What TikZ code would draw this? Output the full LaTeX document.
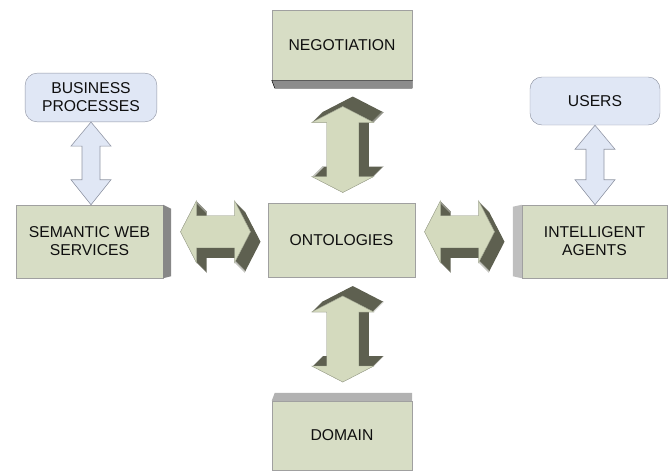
\documentclass[tikz,border=0pt]{standalone}
\usepackage{xcolor}
\usepackage{fontspec}
\setmainfont{Liberation Sans}
\usepackage{tikz}
\usetikzlibrary{calc}

\definecolor{boxfill}{RGB}{215,221,197}
\definecolor{boxline}{RGB}{160,160,160}
\definecolor{bluefill}{RGB}{224,231,245}
\definecolor{blueline}{RGB}{145,150,165}
\definecolor{frontfill}{RGB}{212,218,190}
\definecolor{frontline}{RGB}{165,170,150}
\definecolor{sidedark}{RGB}{94,96,80}
\definecolor{textcol}{RGB}{15,15,15}

\tikzstyle{greenbox} = [rectangle, minimum width=4.2cm, minimum height=2.1cm, text centered, align=center, draw=boxline, fill=boxfill, text=textcol]
\tikzstyle{bluebox} = [rectangle, rounded corners=0.36cm, minimum width=3.95cm, minimum height=1.46cm, text centered, align=center, draw=blueline, fill=bluefill, text=textcol]
\tikzstyle{bluearrow} = [draw=blueline, fill=bluefill, line width=0.5pt]
\tikzstyle{arrowside} = [fill=sidedark]
\tikzstyle{arrowfront} = [draw=frontline, fill=frontfill, line width=0.4pt]
\tikzstyle{greyside} = [fill=black!45]

% light double arrow from top tip #1 to bottom tip #2
\newcommand{\thinarrow}[2]{%
  \draw[bluearrow] (#1) -- ++(20,24) -- ++(-11,0) -- ($(#2)+(9,-25)$) -- ++(11,0) -- (#2)
    -- ++(-20,-25) -- ++(11,0) -- ($(#1)+(-9,24)$) -- ++(-11,0) -- cycle;}

% solid double arrow: centre, rotation, half length
\newcommand{\solidarrow}[3]{%
  \begin{scope}[shift={#1}, rotate=#2]
    \foreach \off in {0,...,10}
      \fill[arrowside, shift={(\off,-\off)}] (0,-#3) -- (31,-#3+16) -- (16,-#3+16) -- (16,#3-16) -- (31,#3-16) -- (0,#3)
        -- (-31,#3-16) -- (-16,#3-16) -- (-16,-#3+16) -- (-31,-#3+16) -- cycle;
    \draw[arrowfront] (0,-#3) -- (31,-#3+16) -- (16,-#3+16) -- (16,#3-16) -- (31,#3-16) -- (0,#3)
        -- (-31,#3-16) -- (-16,#3-16) -- (-16,-#3+16) -- (-31,-#3+16) -- cycle;
  \end{scope}}

\begin{document}
\begin{tikzpicture}[x=0.03cm, y=-0.03cm, font=\fontsize{13.4}{15.4}\selectfont]
	\useasboundingbox (0,0) rectangle (670,472);
	
	\node (onto) [greenbox, minimum width=4.41cm, minimum height=2.22cm] at (341.5,240) {ONTOLOGIES};
	\node (neg) [greenbox] at (342,45) {NEGOTIATION};
	\node (dom) [greenbox, minimum height=2.07cm] at (342,435.5) {DOMAIN};
	\node (sws) [greenbox, minimum width=4.41cm, minimum height=2.19cm] at (89.5,241.5) {SEMANTIC WEB\\SERVICES};
	\node (ia) [greenbox, minimum width=4.35cm, minimum height=2.19cm] at (594.5,241.5) {INTELLIGENT\\AGENTS};
	\node (bp) [bluebox] at (91,97.5) {BUSINESS\\PROCESSES};
	\node (users) [bluebox, minimum width=3.9cm, minimum height=1.44cm] at (595,101) {USERS};
	
	% grey box sides
	\draw[greyside, fill=black!45] (neg.south west) -- (neg.south east) -- ++(0,8) -- ($(neg.south west)+(3,8)$) -- cycle;
	\fill[fill=black!30] (dom.north west) -- ++(3,-8) -- ($(dom.north east)+(0,-8)$) -- (dom.north east) -- cycle;
	\fill[fill=black!47] (sws.north east) -- ++(8,4) -- ($(sws.south east)+(8,-2)$) -- (sws.south east) -- cycle;
	\fill[fill=black!25] (ia.north west) -- ++(-9,2) -- ($(ia.south west)+(-9,-2)$) -- (ia.south west) -- cycle;
	
	\thinarrow{bp.south}{bp.south |- sws.north}
	\thinarrow{users.south}{users.south |- ia.north}
	
	\solidarrow{($(neg.south)!0.5!(onto.north)+(1,8)$)}{0}{43}
	\solidarrow{($(onto.south)!0.5!(dom.north)+(1,0)$)}{0}{43}
	\solidarrow{($(sws.east)!0.5!(onto.west)+(0,-9)$)}{-90}{35}
	\solidarrow{($(onto.east)!0.5!(ia.west)+(-9,-9)$)}{-90}{35}
	
\end{tikzpicture}
\end{document}
